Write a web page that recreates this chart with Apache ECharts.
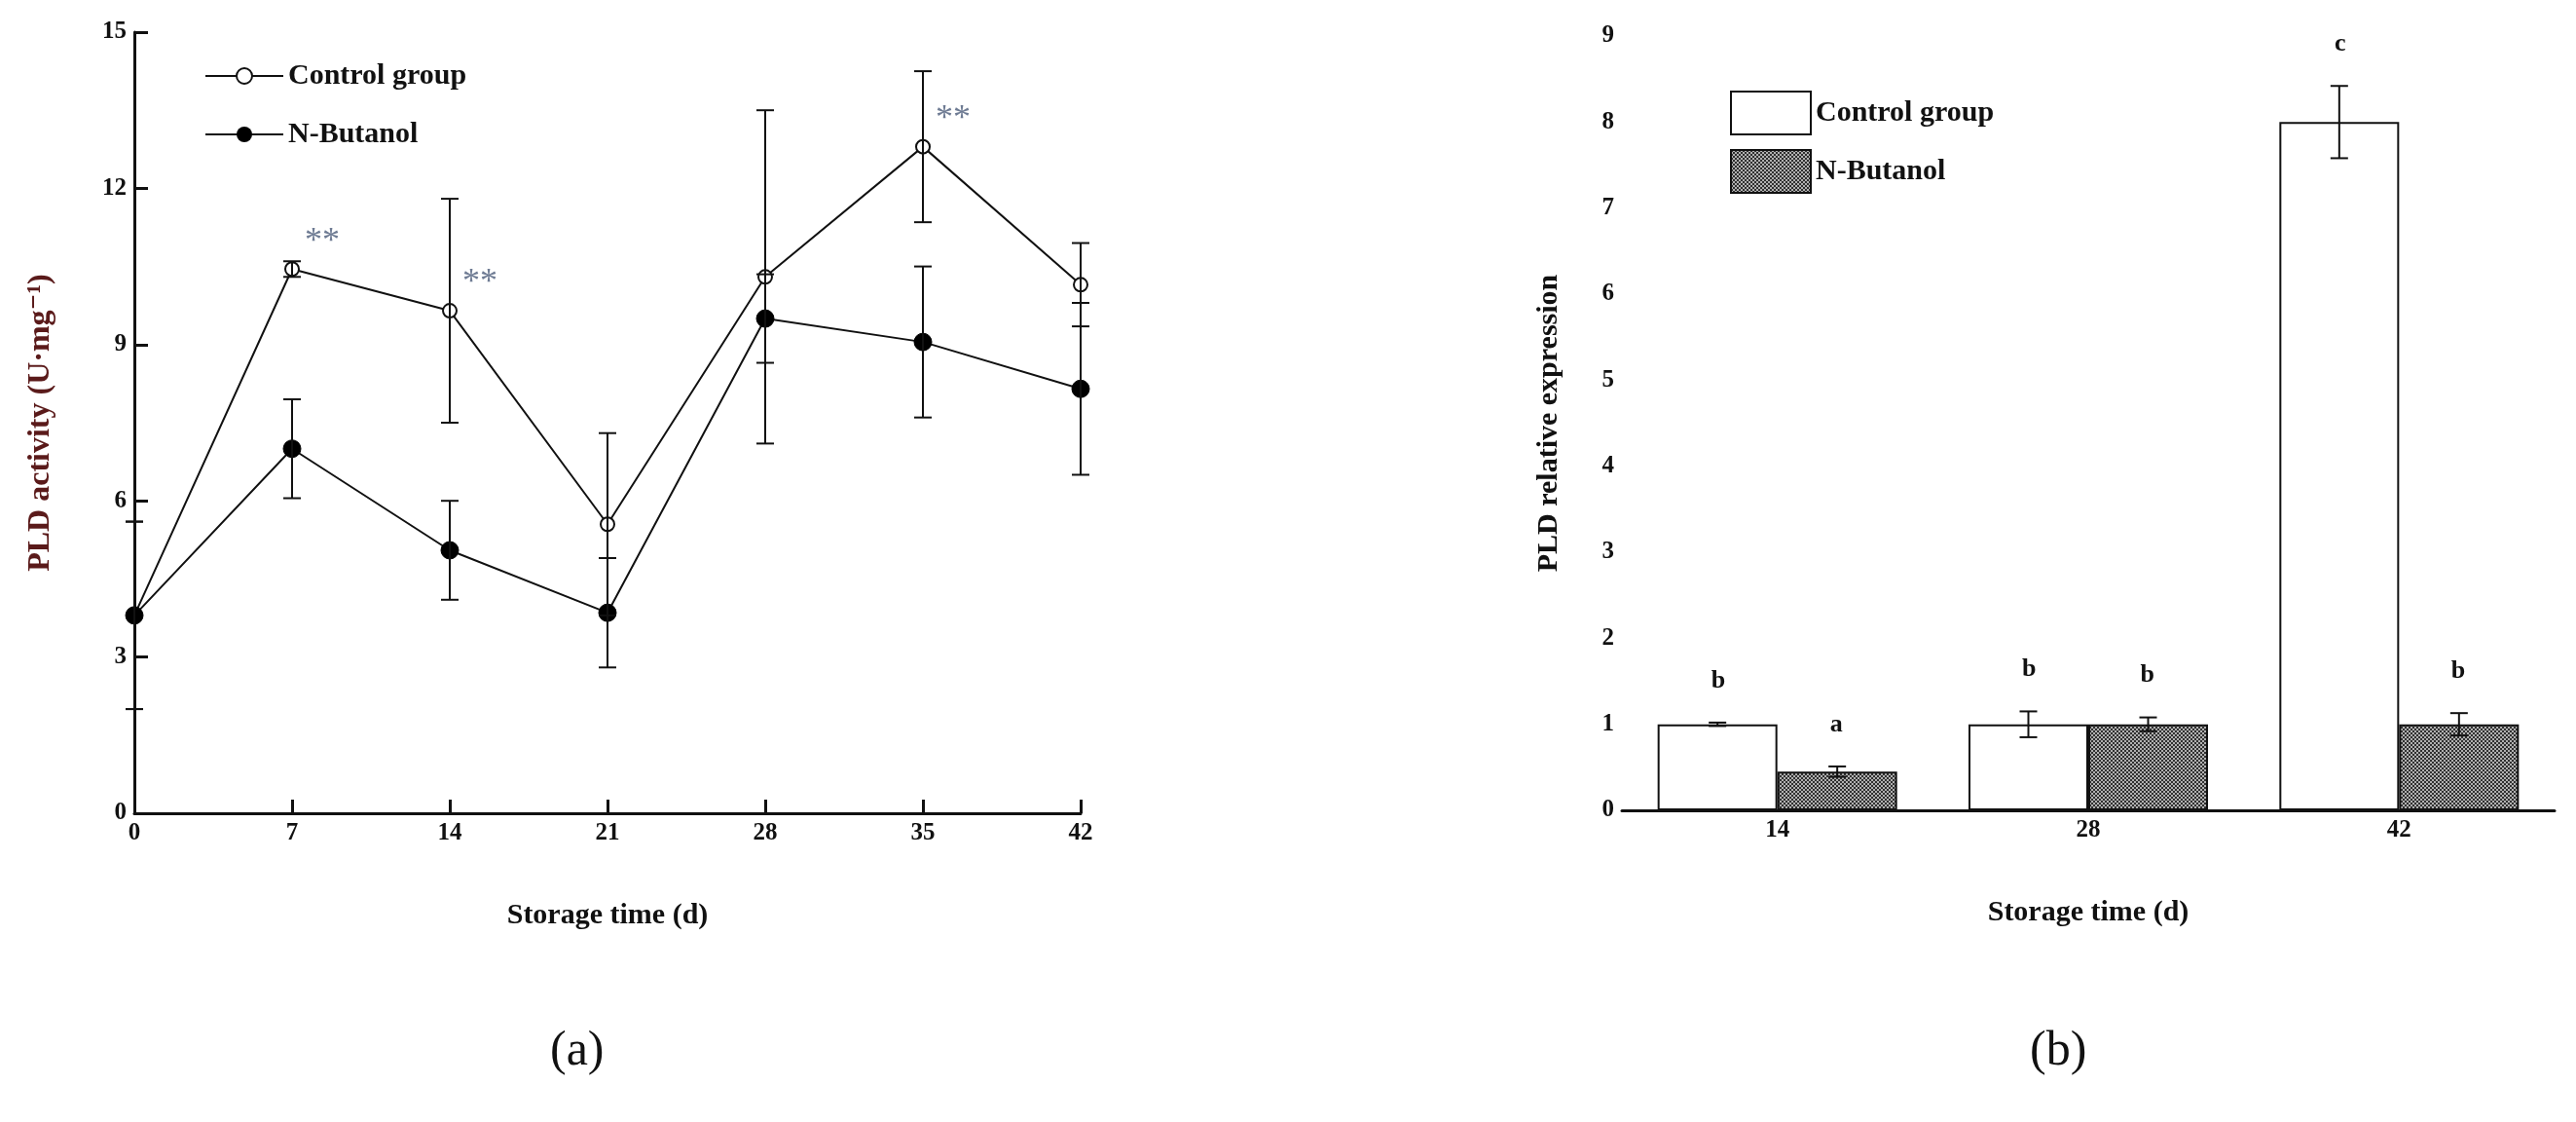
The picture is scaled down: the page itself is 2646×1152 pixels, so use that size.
<!DOCTYPE html>
<html><head><meta charset="utf-8">
<script src="https://cdn.jsdelivr.net/npm/echarts@6/dist/echarts.min.js"></script>
<style>html,body{margin:0;background:#fff}#main{width:2646px;height:1152px}</style>
</head><body><div id="main"></div>
<script>
// (a) PLD activity
var days = [0, 7, 14, 21, 28, 35, 42];
var ctrlAct = [3.8, 10.45, 9.65, 5.55, 10.3, 12.8, 10.15];
var ctrlErr = [1.8, 0.15, 2.15, 1.75, 3.2, 1.45, 0.8];
var butAct = [3.8, 7.0, 5.05, 3.85, 9.5, 9.05, 8.15];
var butErr = [1.8, 0.95, 0.95, 1.05, 0.85, 1.45, 1.65];
var starDays = [7, 14, 35];

// (b) PLD relative expression
var weeks = ['14', '28', '42'];
var ctrlExp = [1.0, 1.0, 8.0];
var ctrlExpErr = [0.02, 0.15, 0.42];
var ctrlLetters = ['b', 'b', 'c'];
var butExp = [0.45, 1.0, 1.0];
var butExpErr = [0.06, 0.08, 0.13];
var butLetters = ['a', 'b', 'b'];

var FONT = '"Liberation Serif", "DejaVu Serif", serif';

// cross-hatched fill for N-Butanol bars
var pat = document.createElement('canvas');
pat.width = 4; pat.height = 4;
var pc = pat.getContext('2d');
pc.fillStyle = '#b0b0b0'; pc.fillRect(0, 0, 4, 4);
pc.fillStyle = '#303030';
pc.fillRect(0, 0, 2, 2); pc.fillRect(2, 2, 2, 2);

function errSeries(name, xs, ys, es, xi, yi, cap, offset) {
    return {
        name: name + ' err', type: 'custom', xAxisIndex: xi, yAxisIndex: yi, z: 5,
        data: ys.map(function (y, i) { return [xs[i], y, es[i]]; }),
        renderItem: function (params, api) {
            var x = api.value(0), y = api.value(1), e = api.value(2);
            var hi = api.coord([x, y + e]), lo = api.coord([x, y - e]);
            var dx = offset ? offset(api) : 0;
            var cx = hi[0] + dx;
            var st = { stroke: '#111', lineWidth: 2 };
            return { type: 'group', children: [
                { type: 'line', shape: { x1: cx, y1: hi[1], x2: cx, y2: lo[1] }, style: st },
                { type: 'line', shape: { x1: cx - cap, y1: hi[1], x2: cx + cap, y2: hi[1] }, style: st },
                { type: 'line', shape: { x1: cx - cap, y1: lo[1], x2: cx + cap, y2: lo[1] }, style: st }
            ]};
        }
    };
}

function letterSeries(ys, es, letters, dxFactor) {
    return {
        type: 'custom', xAxisIndex: 1, yAxisIndex: 1, z: 6, silent: true,
        data: ys.map(function (y, i) { return [i, y + es[i], letters[i]]; }),
        renderItem: function (params, api) {
            var p = api.coord([api.value(0), api.value(1)]);
            var w = api.size([1, 0])[0];
            return { type: 'text', x: p[0] + dxFactor * w, y: p[1] - 30,
                style: { text: letters[params.dataIndex], font: 'bold 26px ' + FONT, fill: '#111', align: 'center', verticalAlign: 'bottom' } };
        }
    };
}

var barW = 123;
function barOffset(sign) {
    return function (api) { return sign * barW / 2; };
}

var axisBase = {
    axisLine: { lineStyle: { color: '#111', width: 3 } },
    axisTick: { inside: true, length: 14, lineStyle: { color: '#111', width: 3 } },
    axisLabel: { color: '#111', fontFamily: FONT, fontWeight: 'bold', fontSize: 25 },
    splitLine: { show: false },
    nameTextStyle: { color: '#111', fontFamily: FONT, fontWeight: 'bold', fontSize: 30 }
};
function ax(o) { return Object.assign({}, JSON.parse(JSON.stringify(axisBase)), o); }

var chart = echarts.init(document.getElementById('main'));
chart.setOption({
    backgroundColor: '#fff',
    animation: false,
    title: [
        { text: '(a)', left: 560, top: 1050, textStyle: { fontFamily: FONT, fontSize: 50, fontWeight: 'normal', color: '#111' } },
        { text: '(b)', left: 2080, top: 1050, textStyle: { fontFamily: FONT, fontSize: 50, fontWeight: 'normal', color: '#111' } }
    ],
    legend: [
        { data: ['Control group', 'N-Butanol'], orient: 'vertical', left: 205, top: 58, itemGap: 30,
          itemWidth: 80, itemHeight: 20, textStyle: { fontFamily: FONT, fontWeight: 'bold', fontSize: 30, color: '#111' } },
        { data: ['Control group ', 'N-Butanol '], orient: 'vertical', left: 1772, top: 88, itemGap: 14, icon: 'rect',
          itemWidth: 82, itemHeight: 44, textStyle: { fontFamily: FONT, fontWeight: 'bold', fontSize: 30, color: '#111' } }
    ],
    grid: [
        { left: 138, top: 33, width: 972, height: 802 },
        { left: 1666, top: 37, width: 958, height: 795 }
    ],
    xAxis: [
        ax({ gridIndex: 0, type: 'value', min: 0, max: 42, interval: 7,
             name: 'Storage time (d)', nameLocation: 'middle', nameGap: 90 }),
        ax({ gridIndex: 1, type: 'category', data: weeks, axisTick: { inside: false, length: 0 },
             name: 'Storage time (d)', nameLocation: 'middle', nameGap: 90 })
    ],
    yAxis: [
        ax({ gridIndex: 0, type: 'value', min: 0, max: 15, interval: 3,
             name: 'PLD activity (U·mg⁻¹)', nameLocation: 'middle', nameGap: 80,
             nameTextStyle: { color: '#5a1a1a', fontFamily: FONT, fontWeight: 'bold', fontSize: 32 } }),
        ax({ gridIndex: 1, type: 'value', min: 0, max: 9, interval: 1,
             name: 'PLD relative expression', nameLocation: 'middle', nameGap: 60 })
    ],
    series: [
        errSeries('Control group', days, ctrlAct, ctrlErr, 0, 0, 9),
        errSeries('N-Butanol', days, butAct, butErr, 0, 0, 9),
        { name: 'Control group', type: 'line', xAxisIndex: 0, yAxisIndex: 0, z: 4,
          data: days.map(function (d, i) { return [d, ctrlAct[i]]; }),
          symbol: 'circle', symbolSize: 14, itemStyle: { color: '#fff', borderColor: '#111', borderWidth: 2 },
          lineStyle: { color: '#111', width: 2 } },
        { name: 'N-Butanol', type: 'line', xAxisIndex: 0, yAxisIndex: 0, z: 4,
          data: days.map(function (d, i) { return [d, butAct[i]]; }),
          symbol: 'circle', symbolSize: 18, itemStyle: { color: '#000', borderColor: '#000' },
          lineStyle: { color: '#111', width: 2 } },
        { type: 'scatter', xAxisIndex: 0, yAxisIndex: 0, symbolSize: 0, silent: true,
          data: starDays.map(function (d) { var i = days.indexOf(d); return [d, ctrlAct[i]]; }),
          label: { show: true, formatter: '**', position: 'right', offset: [8, -28],
                   fontFamily: FONT, fontSize: 36, color: '#4a5a78' } },
        { name: 'Control group ', type: 'bar', xAxisIndex: 1, yAxisIndex: 1, data: ctrlExp,
          barWidth: barW, barGap: '0%',
          itemStyle: { color: '#fff', borderColor: '#111', borderWidth: 2 } },
        { name: 'N-Butanol ', type: 'bar', xAxisIndex: 1, yAxisIndex: 1, data: butExp,
          barWidth: barW, barGap: '0%',
          itemStyle: { color: { image: pat, repeat: 'repeat' }, borderColor: '#111', borderWidth: 2 } },
        errSeries('ctrlb', [0, 1, 2], ctrlExp, ctrlExpErr, 1, 1, 9, barOffset(-1)),
        errSeries('butb', [0, 1, 2], butExp, butExpErr, 1, 1, 9, barOffset(1)),
        letterSeries(ctrlExp, ctrlExpErr, ctrlLetters, -0.19),
        letterSeries(butExp, butExpErr, butLetters, 0.19)
    ]
});
</script></body></html>
